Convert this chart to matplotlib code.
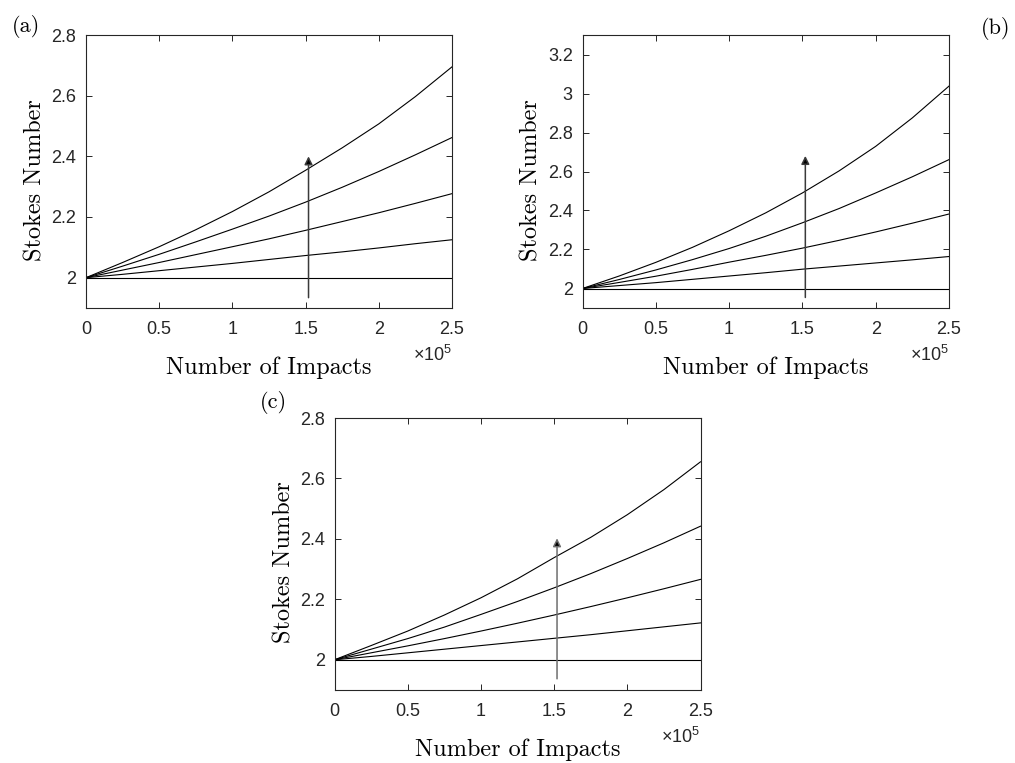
import numpy as np
import matplotlib.pyplot as plt
from matplotlib.ticker import FuncFormatter, MultipleLocator

plt.rcParams['mathtext.fontset'] = 'custom'
plt.rcParams['mathtext.rm'] = 'Liberation Sans'

# number of impacts (x 1e5)
impacts = np.array([0, 0.25, 0.5, 0.75, 1.0, 1.25, 1.5, 1.75, 2.0, 2.25, 2.5]) * 1e5

# Stokes number curves, one list per parameter value (lowest -> highest)
stokes_a = [
    [2.0] * 11,
    [2.0, 2.011, 2.023, 2.035, 2.047, 2.060, 2.073, 2.085, 2.098, 2.112, 2.125],
    [2.0, 2.025, 2.050, 2.076, 2.102, 2.128, 2.156, 2.185, 2.214, 2.245, 2.277],
    [2.0, 2.038, 2.077, 2.118, 2.160, 2.203, 2.249, 2.298, 2.350, 2.405, 2.462],
    [2.0, 2.050, 2.102, 2.158, 2.218, 2.283, 2.354, 2.428, 2.507, 2.597, 2.695],
]
stokes_b = [
    [2.0] * 11,
    [2.0, 2.015, 2.030, 2.047, 2.064, 2.081, 2.099, 2.115, 2.131, 2.147, 2.164],
    [2.0, 2.031, 2.063, 2.098, 2.135, 2.170, 2.207, 2.247, 2.290, 2.335, 2.382],
    [2.0, 2.046, 2.095, 2.148, 2.205, 2.268, 2.337, 2.410, 2.490, 2.573, 2.661],
    [2.0, 2.064, 2.134, 2.211, 2.296, 2.388, 2.490, 2.603, 2.729, 2.875, 3.038],
]
stokes_c = [
    [2.0] * 11,
    [2.0, 2.011, 2.023, 2.035, 2.047, 2.059, 2.071, 2.083, 2.096, 2.109, 2.122],
    [2.0, 2.023, 2.046, 2.070, 2.095, 2.121, 2.148, 2.176, 2.205, 2.235, 2.266],
    [2.0, 2.035, 2.070, 2.108, 2.150, 2.193, 2.238, 2.285, 2.335, 2.387, 2.442],
    [2.0, 2.047, 2.095, 2.148, 2.205, 2.268, 2.338, 2.405, 2.480, 2.563, 2.655],
]

# arrow: (x, y_start, y_end)
arrow_a = (1.52e5, 1.934, 2.40)
arrow_b = (1.52e5, 1.954, 2.68)
arrow_c = (1.52e5, 1.937, 2.402)

ylims = {'a': (1.9, 2.8), 'b': (1.9, 3.3), 'c': (1.9, 2.8)}

AX_COLOR = '#262626'
SERIF = 'cmr10'
SANS = 'Liberation Sans'

fig = plt.figure(figsize=(10.15, 7.63), dpi=100)
W, H = 1015, 763


def make_axes(left, top, right, bottom):
    return fig.add_axes([left / W, 1 - bottom / H, (right - left) / W, (bottom - top) / H])


def style_panel(ax, curves, arrow, ylim, shaft_color):
    for c in curves:
        ax.plot(impacts, c, color='black', lw=0.8)
    x, y0, y1 = arrow
    ax.annotate('', xy=(x, y1), xytext=(x, y0),
                arrowprops=dict(arrowstyle='-|>', mutation_scale=12, lw=1.1,
                                ec=shaft_color, fc='black', shrinkA=0, shrinkB=0))
    ax.set_xlim(0, 2.5e5)
    ax.set_ylim(*ylim)
    ax.xaxis.set_major_locator(MultipleLocator(0.5e5))
    ax.yaxis.set_major_locator(MultipleLocator(0.2))
    ax.xaxis.set_major_formatter(FuncFormatter(lambda v, p: '%g' % round(v / 1e5, 3)))
    ax.yaxis.set_major_formatter(FuncFormatter(lambda v, p: '%g' % round(v, 3)))
    ax.tick_params(direction='in', length=4, width=0.7, color=AX_COLOR,
                   top=True, right=True, labelsize=13, labelcolor=AX_COLOR)
    ax.tick_params(axis='x', pad=9)
    ax.tick_params(axis='y', pad=7)
    for lab in ax.get_xticklabels() + ax.get_yticklabels():
        lab.set_family(SANS)
    for s in ax.spines.values():
        s.set_color(AX_COLOR)
        s.set_linewidth(0.8)
    ax.set_xlabel('Number of Impacts', family=SERIF, fontsize=17.5)
    ax.set_ylabel('Stokes Number', family=SERIF, fontsize=17.5)
    ax.xaxis.set_label_coords(0.5, -0.22)
    ax.xaxis.label.set_va('center')
    ax.yaxis.set_label_coords(-0.138, 0.47)
    ax.yaxis.label.set_va('center')
    ax.text(1.0, -0.172, r'$\times 10^{5}$', transform=ax.transAxes,
            ha='right', va='center', fontsize=13, color=AX_COLOR)


ax_a = make_axes(86, 35, 452, 308)
ax_b = make_axes(582.5, 35, 949, 308)
ax_c = make_axes(334.5, 418, 700.5, 690)

style_panel(ax_a, stokes_a, arrow_a, ylims['a'], '#3a3a3a')
style_panel(ax_b, stokes_b, arrow_b, ylims['b'], '#3a3a3a')
style_panel(ax_c, stokes_c, arrow_c, ylims['c'], '#6e6e6e')

fig.text(26 / W, 1 - 27 / H, '(a)', family=SERIF, fontsize=16, ha='center', va='center')
fig.text(996 / W, 1 - 28 / H, '(b)', family=SERIF, fontsize=16, ha='center', va='center')
fig.text(273 / W, 1 - 403 / H, '(c)', family=SERIF, fontsize=16, ha='center', va='center')

fig.savefig('out.png', dpi=100, facecolor='white')
